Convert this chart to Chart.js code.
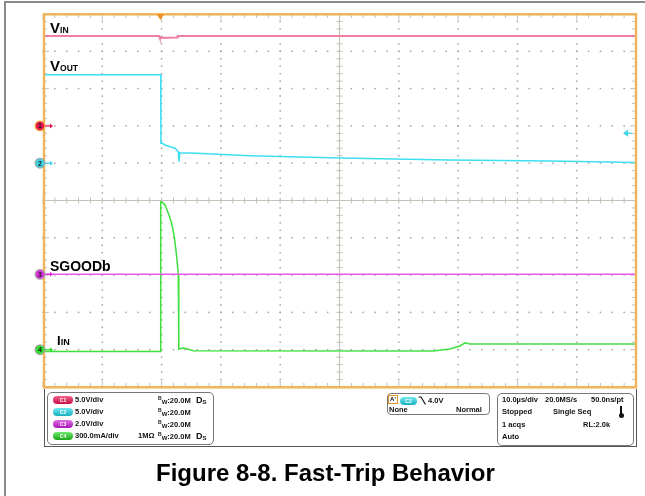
<!DOCTYPE html>
<html>
<head>
<meta charset="utf-8">
<script src="https://cdn.jsdelivr.net/npm/chart.js@4.4.0/dist/chart.umd.min.js"></script>
<style>
  body { margin: 0; background: #fff; font-family: "Liberation Sans", Arial, sans-serif; }
  #wrap { position: relative; width: 645px; height: 496px; overflow: hidden; }
  #frame { position: absolute; left: 4px; top: 1px; width: 700px; height: 600px;
           border-left: 2px solid #8a8a8a; border-top: 2px solid #8a8a8a; }
  #scope { position: absolute; left: 0; top: 0; }
  .lbl { position: absolute; font-weight: bold; color: #000; line-height: 1; white-space: nowrap; }
  .t { position: absolute; font-weight: bold; font-size: 7.5px; line-height: 1; color: #111; white-space: nowrap; }
  .box { position: absolute; border: 1px solid #777; border-radius: 5px; box-sizing: border-box; }
  .badge { position: absolute; width: 20px; height: 8px; border-radius: 4px; color: #fff;
           font-size: 5px; font-weight: bold; line-height: 8px; text-align: center; }
  .sup { font-size: 5px; vertical-align: 3px; }
  .sub { font-size: 6px; vertical-align: -1px; }
</style>
</head>
<body>
<div id="wrap">
  <div id="frame"></div>
  <canvas id="scope" width="645" height="496"></canvas>

  <!-- etiquetas de las trazas -->
  <div class="lbl" style="left:50px;top:20px;font-size:15px">V<span style="font-size:8.5px">IN</span></div>
  <div class="lbl" style="left:50px;top:58px;font-size:15px">V<span style="font-size:8.5px">OUT</span></div>
  <div class="lbl" style="left:50px;top:258.5px;font-size:14px">SGOODb</div>
  <div class="lbl" style="left:57px;top:334px;font-size:13px">I<span style="font-size:9px">IN</span></div>

  <!-- panel inferior del osciloscopio -->
  <div style="position:absolute;left:44px;top:389px;width:593px;height:58px;box-sizing:border-box;border:1px solid #555;border-top:none"></div>

  <div class="box" style="left:47px;top:392px;width:167px;height:53px"></div>
  <div class="badge" style="left:53px;top:395.5px;background:linear-gradient(#f0608a,#c8104a)">C1</div>
  <div class="badge" style="left:53px;top:407.5px;background:linear-gradient(#70e8f0,#18b0c0)">C2</div>
  <div class="badge" style="left:53px;top:419.5px;background:linear-gradient(#e070e8,#a818b0)">C3</div>
  <div class="badge" style="left:53px;top:431.8px;background:linear-gradient(#70e870,#18a818)">C4</div>
  <div class="t" style="left:75px;top:395.9px">5.0V/div</div>
  <div class="t" style="left:75px;top:407.9px">5.0V/div</div>
  <div class="t" style="left:75px;top:419.9px">2.0V/div</div>
  <div class="t" style="left:75px;top:432.2px">300.0mA/div</div>
  <div class="t" style="left:158px;top:395.9px"><span class="sup">B</span><span class="sub">W</span>:20.0M</div>
  <div class="t" style="left:158px;top:407.9px"><span class="sup">B</span><span class="sub">W</span>:20.0M</div>
  <div class="t" style="left:158px;top:419.9px"><span class="sup">B</span><span class="sub">W</span>:20.0M</div>
  <div class="t" style="left:138px;top:432.2px">1MΩ</div>
  <div class="t" style="left:158px;top:432.2px"><span class="sup">B</span><span class="sub">W</span>:20.0M</div>
  <div class="t" style="left:196px;top:395.9px;font-size:9px">D<span class="sub">S</span></div>
  <div class="t" style="left:196px;top:432.2px;font-size:9px">D<span class="sub">S</span></div>

  <div class="box" style="left:387px;top:393px;width:103px;height:22px;border-radius:4px"></div>
  <div style="position:absolute;left:388px;top:395px;width:8px;height:7px;border:1px solid #e89020;font-size:6px;font-weight:bold;line-height:7px;text-align:center">A'</div>
  <div class="badge" style="left:400px;top:396.5px;width:17px;background:linear-gradient(#70e8f0,#18b0c0)">C2</div>
  <svg style="position:absolute;left:418px;top:396px" width="9" height="9"><path d="M0.5 1 H3 L7.5 8.5" stroke="#111" stroke-width="1.2" fill="none"/></svg>
  <div class="t" style="left:428px;top:396.9px">4.0V</div>
  <div class="t" style="left:389px;top:405.9px">None</div>
  <div class="t" style="left:456px;top:405.9px">Normal</div>

  <div class="box" style="left:497px;top:393px;width:137px;height:53px"></div>
  <div class="t" style="left:502px;top:396.4px">10.0µs/div</div>
  <div class="t" style="left:545px;top:396.4px">20.0MS/s</div>
  <div class="t" style="left:591px;top:396.4px">50.0ns/pt</div>
  <div class="t" style="left:502px;top:408.4px">Stopped</div>
  <div class="t" style="left:553px;top:408.4px">Single Seq</div>
  <div style="position:absolute;left:620px;top:406px;width:2px;height:9px;background:#111"></div>
  <div style="position:absolute;left:618.5px;top:413px;width:5px;height:5px;border-radius:50%;background:#111"></div>
  <div class="t" style="left:502px;top:420.9px">1 acqs</div>
  <div class="t" style="left:583px;top:420.9px">RL:2.0k</div>
  <div class="t" style="left:502px;top:433.4px">Auto</div>

  <div class="lbl" style="left:156px;top:460.7px;font-size:24px">Figure 8-8. Fast-Trip Behavior</div>
</div>

<script>
// ===============================
// Datos
// ===============================
const xGridUs = [0, 10, 20, 30, 40, 50, 60, 70, 80, 90, 100];   // 10 µs/div
const yGridDiv = [0, 1, 2, 3, 4, 5, 6, 7, 8, 9, 10];
const minorPerDiv = 5;

// ajustes de canal: escala por division y nivel de tierra (div)
const channelScales = [5.0, 5.0, 2.0, 300.0];     // V/div, V/div, V/div, mA/div
const channelGround = [7.0, 6.0, 3.02, 1.0];

const triggerTimeUs = 19.8;
const triggerLevelV = 4.0;   // sobre C2

// C1 - VIN (V)
const vinTime  = [0, 19.6, 19.7, 22.6, 22.7, 100];
const vinVolts = [12.05, 12.05, 11.8, 11.85, 12.05, 12.05];

// C2 - VOUT (V)
const voutTime  = [0, 19.85, 19.88, 20.12, 20.57, 21.42, 22.26, 22.82, 22.93, 23.1, 25.9, 34.9, 50.1, 68.6, 85.5, 100];
const voutVolts = [11.85, 11.85, 2.67, 2.67, 2.44, 2.21, 2.0, 1.54, 0.2, 1.41, 1.33, 1.0, 0.70, 0.43, 0.30, 0.09];

// C3 - SGOODb (V)
const sgoodTime  = [0, 100];
const sgoodVolts = [0, 0];

// C4 - IIN (mA)
const iinTime = [0, 19.78, 19.85, 20.02, 20.57, 21.13, 21.70, 22.14, 22.55, 22.82, 22.9, 23.1, 23.66, 24.5, 25.35, 65.8, 68.6, 70.3, 71.2, 72.0, 100];
const iinMilliamps = [-14, -14, 1190, 1190, 1164, 1097, 1017, 909, 748, 601, 3, 8, 14, 3, -8, -10, 6, 30, 56, 46, 46];

const traceColors = ['#ee7fa0', '#3ce0f0', '#ee55ee', '#3ee03e'];
const markerColors = ['#e8124e', '#3ad6e6', '#dd2ee0', '#2ee02e'];
const markerRings = ['#f0a040', '#9aa8aa', '#a8a0a8', '#a0a8a0'];

function toDiv(ch, v) { return channelGround[ch] + v / channelScales[ch]; }
function series(ch, ts, vs) { return ts.map((t, i) => ({ x: t, y: toDiv(ch, vs[i]) })); }
function subdivide(arr) {
    const out = [];
    for (let i = 0; i < arr.length - 1; i++)
        for (let k = 0; k < minorPerDiv; k++) out.push(arr[i] + k * (arr[i + 1] - arr[i]) / minorPerDiv);
    out.push(arr[arr.length - 1]);
    return out;
}

// reticula estilo osciloscopio
const graticule = {
    id: 'graticule',
    beforeDatasetsDraw(chart) {
        const { ctx, chartArea: a, scales: { x, y } } = chart;
        const xs = subdivide(xGridUs), ys = subdivide(yGridDiv);
        const mid = Math.floor(xGridUs.length / 2);
        const cx = x.getPixelForValue(xGridUs[mid]);
        const cy = y.getPixelForValue(yGridDiv[mid]);
        ctx.save();

        // puntos
        ctx.fillStyle = '#a4a4a4';
        xGridUs.forEach((t, i) => {
            if (i === 0 || i === mid || i === xGridUs.length - 1) return;
            const px = x.getPixelForValue(t);
            ys.forEach(v => ctx.fillRect(px - 0.75, y.getPixelForValue(v) - 0.75, 1.5, 1.5));
        });
        yGridDiv.forEach((v, i) => {
            if (i === 0 || i === mid || i === yGridDiv.length - 1) return;
            const py = y.getPixelForValue(v);
            xs.forEach(t => ctx.fillRect(x.getPixelForValue(t) - 0.75, py - 0.75, 1.5, 1.5));
        });

        // cruz central y marcas
        ctx.strokeStyle = '#c4c0b8';
        ctx.lineWidth = 1;
        ctx.beginPath();
        ctx.moveTo(cx, a.top); ctx.lineTo(cx, a.bottom);
        ctx.moveTo(a.left, cy); ctx.lineTo(a.right, cy);
        ys.forEach((v, i) => {
            const py = y.getPixelForValue(v);
            const len = i % minorPerDiv === 0 ? 6 : 4;
            ctx.moveTo(cx - 3, py); ctx.lineTo(cx + 3, py);
            ctx.moveTo(a.left, py); ctx.lineTo(a.left + len, py);
            ctx.moveTo(a.right, py); ctx.lineTo(a.right - len, py);
        });
        xs.forEach((t, i) => {
            const px = x.getPixelForValue(t);
            const len = i % minorPerDiv === 0 ? 6 : 4;
            ctx.moveTo(px, cy - 3); ctx.lineTo(px, cy + 3);
            ctx.moveTo(px, a.top); ctx.lineTo(px, a.top + len);
            ctx.moveTo(px, a.bottom); ctx.lineTo(px, a.bottom - len);
        });
        ctx.stroke();
        ctx.restore();
    },
    afterDatasetsDraw(chart) {
        const { ctx, chartArea: a, scales: { x, y } } = chart;
        ctx.save();

        // borde naranja
        ctx.strokeStyle = '#f0b45c';
        ctx.lineWidth = 2.5;
        ctx.strokeRect(a.left + 1, a.top + 0.3, a.right - a.left - 1, a.bottom - a.top);

        // posicion del disparo
        const tx = x.getPixelForValue(triggerTimeUs);
        ctx.fillStyle = '#f0922a';
        ctx.beginPath();
        ctx.moveTo(tx - 4, a.top); ctx.lineTo(tx + 4, a.top); ctx.lineTo(tx, a.top + 6);
        ctx.closePath(); ctx.fill();

        // nivel del disparo (C2)
        const ty = y.getPixelForValue(toDiv(1, triggerLevelV));
        ctx.fillStyle = markerColors[1];
        ctx.strokeStyle = markerColors[1];
        ctx.lineWidth = 1.2;
        ctx.beginPath();
        ctx.moveTo(a.right - 13, ty); ctx.lineTo(a.right - 8, ty - 3.5); ctx.lineTo(a.right - 8, ty + 3.5);
        ctx.closePath(); ctx.fill();
        ctx.beginPath(); ctx.moveTo(a.right - 9, ty); ctx.lineTo(a.right - 4, ty); ctx.stroke();

        // marcadores de tierra de cada canal
        channelGround.forEach((g, i) => {
            const py = y.getPixelForValue(g);
            const px = a.left - 3;
            ctx.strokeStyle = markerColors[i];
            ctx.fillStyle = markerColors[i];
            ctx.lineWidth = 1.2;
            ctx.beginPath(); ctx.moveTo(px + 5, py); ctx.lineTo(a.left + 8, py); ctx.stroke();
            ctx.beginPath();
            ctx.moveTo(a.left + 10, py); ctx.lineTo(a.left + 7, py - 2.5); ctx.lineTo(a.left + 7, py + 2.5);
            ctx.closePath(); ctx.fill();
            ctx.beginPath(); ctx.arc(px, py, 4.8, 0, Math.PI * 2);
            ctx.fill();
            ctx.strokeStyle = markerRings[i];
            ctx.lineWidth = 1.3;
            ctx.stroke();
            ctx.fillStyle = '#222';
            ctx.font = 'bold 7px "Liberation Sans", Arial';
            ctx.textAlign = 'center';
            ctx.textBaseline = 'middle';
            ctx.fillText(String(i + 1), px, py + 0.5);
        });
        ctx.restore();
    }
};

new Chart(document.getElementById('scope'), {
    type: 'line',
    data: {
        datasets: [
            { label: 'VIN', data: series(0, vinTime, vinVolts), borderColor: traceColors[0], borderWidth: 2 },
            { label: 'VOUT', data: series(1, voutTime, voutVolts), borderColor: traceColors[1], borderWidth: 1.5 },
            { label: 'SGOODb', data: series(2, sgoodTime, sgoodVolts), borderColor: traceColors[2], borderWidth: 1.5 },
            { label: 'IIN', data: series(3, iinTime, iinMilliamps), borderColor: traceColors[3], borderWidth: 1.5 }
        ]
    },
    options: {
        responsive: false,
        animation: false,
        layout: { padding: { left: 43, top: 14, right: 9, bottom: 109 } },
        elements: { point: { radius: 0 }, line: { tension: 0 } },
        scales: {
            x: { type: 'linear', min: xGridUs[0], max: xGridUs[xGridUs.length - 1], display: false },
            y: { type: 'linear', min: yGridDiv[0], max: yGridDiv[yGridDiv.length - 1], display: false }
        },
        plugins: { legend: { display: false }, tooltip: { enabled: false } }
    },
    plugins: [graticule]
});
</script>
</body>
</html>
